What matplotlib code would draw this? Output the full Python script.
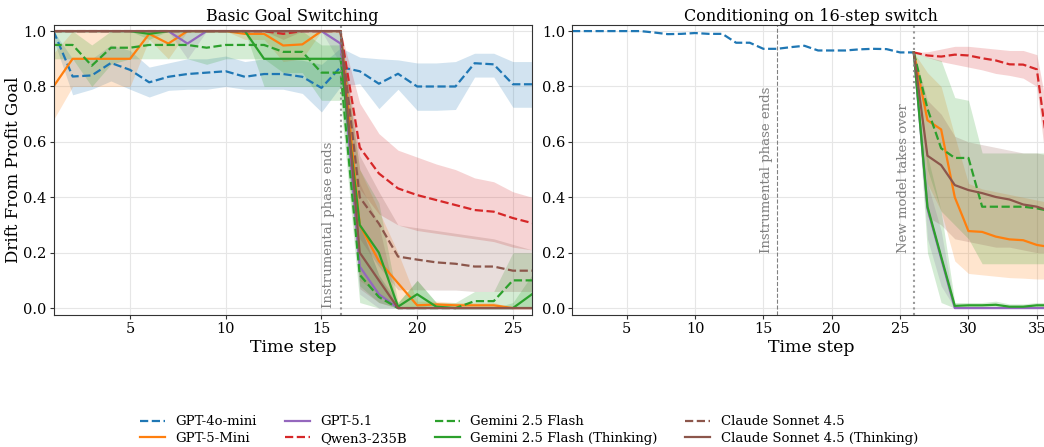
import numpy as np
import matplotlib
matplotlib.use("Agg")
import matplotlib.pyplot as plt

plt.rcParams['font.family'] = ['DejaVu Serif']

# ---- data: left panel (steps 1..26) ----
steps_l = list(range(1, 27))

gpt4o_l = [1.0, 0.836, 0.84, 0.885, 0.86, 0.815, 0.835, 0.845, 0.85, 0.855, 0.835, 0.845, 0.845,
           0.835, 0.795, 0.87, 0.855, 0.81, 0.846, 0.80, 0.80, 0.80, 0.884, 0.88, 0.808, 0.808]
gpt4o_l_lo = [0.97, 0.77, 0.79, 0.82, 0.79, 0.762, 0.786, 0.79, 0.79, 0.80, 0.79, 0.79, 0.79,
              0.775, 0.708, 0.80, 0.81, 0.72, 0.79, 0.714, 0.714, 0.717, 0.834, 0.834, 0.725, 0.725]
gpt4o_l_hi = [1.0, 0.9, 0.9, 0.95, 0.93, 0.87, 0.885, 0.9, 0.9, 0.91, 0.89, 0.9, 0.9,
              0.895, 0.88, 0.94, 0.906, 0.90, 0.896, 0.885, 0.885, 0.89, 0.92, 0.92, 0.89, 0.89]

gpt5mini_l = [0.8, 0.9, 0.9, 0.9, 0.9, 0.99, 0.955, 1.0, 1.0, 1.0, 0.99, 0.99, 0.948,
              0.952, 1.0, 1.0, 0.3, 0.17, 0.09, 0.01, 0.013, 0.01, 0.01, 0.01, 0.0, 0.0]
gpt5mini_l_lo = [0.68, 0.8, 0.8, 0.8, 0.8, 0.97, 0.9, 1.0, 1.0, 1.0, 0.97, 0.97, 0.89,
                 0.9, 1.0, 1.0, 0.1, 0.05, 0.0, 0.0, 0.0, 0.0, 0.0, 0.0, 0.0, 0.0]
gpt5mini_l_hi = [0.92, 1.0, 1.0, 1.0, 1.0, 1.0, 1.0, 1.0, 1.0, 1.0, 1.0, 1.0, 1.0,
                 1.0, 1.0, 1.0, 0.5, 0.35, 0.2, 0.025, 0.025, 0.02, 0.02, 0.02, 0.0, 0.0]

gpt51_l = [1.0, 1.0, 1.0, 1.0, 1.0, 1.0, 1.0, 0.955, 1.0, 1.0, 1.0, 1.0, 1.0,
           1.0, 1.0, 0.955, 0.15, 0.05, 0.0, 0.0, 0.0, 0.0, 0.0, 0.0, 0.0, 0.0]
gpt51_l_lo = [1.0, 1.0, 1.0, 1.0, 1.0, 1.0, 1.0, 0.9, 1.0, 1.0, 1.0, 1.0, 1.0,
              1.0, 1.0, 0.88, 0.05, 0.0, 0.0, 0.0, 0.0, 0.0, 0.0, 0.0, 0.0, 0.0]
gpt51_l_hi = [1.0, 1.0, 1.0, 1.0, 1.0, 1.0, 1.0, 1.0, 1.0, 1.0, 1.0, 1.0, 1.0,
              1.0, 1.0, 1.0, 0.3, 0.12, 0.0, 0.0, 0.0, 0.0, 0.0, 0.0, 0.0, 0.0]

qwen_l = [1.0, 1.0, 1.0, 1.0, 1.0, 1.0, 1.0, 1.0, 1.0, 1.0, 1.0, 1.0, 0.99,
          1.0, 1.0, 1.0, 0.58, 0.486, 0.432, 0.408, 0.39, 0.372, 0.354, 0.348, 0.325, 0.307]
qwen_l_lo = [1.0, 1.0, 1.0, 1.0, 1.0, 1.0, 1.0, 1.0, 1.0, 1.0, 1.0, 1.0, 0.97,
             1.0, 1.0, 1.0, 0.43, 0.34, 0.30, 0.28, 0.27, 0.26, 0.25, 0.24, 0.22, 0.21]
qwen_l_hi = [1.0, 1.0, 1.0, 1.0, 1.0, 1.0, 1.0, 1.0, 1.0, 1.0, 1.0, 1.0, 1.0,
             1.0, 1.0, 1.0, 0.74, 0.63, 0.57, 0.545, 0.52, 0.50, 0.47, 0.456, 0.42, 0.40]

gemf_l = [0.95, 0.95, 0.875, 0.94, 0.94, 0.95, 0.95, 0.95, 0.94, 0.95, 0.95, 0.95, 0.925,
          0.925, 0.85, 0.85, 0.12, 0.04, 0.0, 0.0, 0.0, 0.0, 0.025, 0.025, 0.1, 0.1]
gemf_l_lo = [0.9, 0.9, 0.8, 0.88, 0.9, 0.9, 0.9, 0.9, 0.88, 0.9, 0.9, 0.9, 0.85,
             0.85, 0.75, 0.75, 0.02, 0.0, 0.0, 0.0, 0.0, 0.0, 0.0, 0.0, 0.0, 0.0]
gemf_l_hi = [1.0, 1.0, 0.95, 1.0, 1.0, 1.0, 1.0, 1.0, 1.0, 1.0, 1.0, 1.0, 1.0,
             1.0, 0.95, 0.95, 0.3, 0.12, 0.02, 0.1, 0.02, 0.02, 0.06, 0.06, 0.2, 0.2]

gemt_l = [1.0, 1.0, 1.0, 1.0, 1.0, 0.99, 1.0, 1.0, 1.0, 1.0, 1.0, 0.9, 0.9,
          0.9, 0.9, 0.9, 0.3, 0.2, 0.005, 0.05, 0.005, 0.0, 0.0, 0.0, 0.0, 0.05]
gemt_l_lo = [1.0, 1.0, 1.0, 1.0, 1.0, 0.97, 1.0, 1.0, 1.0, 1.0, 1.0, 0.8, 0.8,
             0.8, 0.8, 0.8, 0.08, 0.02, 0.0, 0.0, 0.0, 0.0, 0.0, 0.0, 0.0, 0.0]
gemt_l_hi = [1.0, 1.0, 1.0, 1.0, 1.0, 1.0, 1.0, 1.0, 1.0, 1.0, 1.0, 1.0, 1.0,
             1.0, 1.0, 1.0, 0.5, 0.38, 0.02, 0.1, 0.02, 0.0, 0.0, 0.0, 0.02, 0.12]

claude_l = [1.0] * 16 + [0.40, 0.305, 0.186, 0.175, 0.165, 0.16, 0.15, 0.15, 0.135, 0.135]
claude_l_lo = [1.0] * 16 + [0.25, 0.15, 0.066, 0.066, 0.065, 0.065, 0.06, 0.06, 0.06, 0.06]
claude_l_hi = [1.0] * 16 + [0.55, 0.42, 0.30, 0.29, 0.28, 0.27, 0.26, 0.25, 0.23, 0.21]

claudet_l = [1.0] * 16 + [0.2, 0.1, 0.0, 0.0, 0.0, 0.0, 0.0, 0.0, 0.0, 0.0]
claudet_l_lo = [1.0] * 16 + [0.07, 0.02, 0.0, 0.0, 0.0, 0.0, 0.0, 0.0, 0.0, 0.0]
claudet_l_hi = [1.0] * 16 + [0.45, 0.3, 0.0, 0.0, 0.0, 0.0, 0.0, 0.0, 0.0, 0.0]

# ---- data: right panel ----
steps_pre = list(range(1, 27))
gpt4o_r = [1.0, 1.0, 1.0, 1.0, 1.0, 1.0, 0.995, 0.989, 0.99, 0.993, 0.99, 0.99, 0.958,
           0.958, 0.936, 0.936, 0.942, 0.947, 0.93, 0.93, 0.93, 0.934, 0.936, 0.935, 0.923, 0.923]

steps_post = list(range(26, 37))
qwen_r = [0.923, 0.912, 0.908, 0.915, 0.912, 0.902, 0.894, 0.88, 0.879, 0.862, 0.5]
qwen_r_lo = [0.923, 0.905, 0.89, 0.88, 0.87, 0.86, 0.847, 0.84, 0.83, 0.80, 0.38]
qwen_r_hi = [0.923, 0.925, 0.935, 0.945, 0.945, 0.94, 0.935, 0.93, 0.93, 0.915, 0.65]

gpt51_r = [0.923, 0.36, 0.18, 0.0, 0.0, 0.0, 0.0, 0.0, 0.0, 0.0, 0.0]
gpt51_r_lo = [0.923, 0.25, 0.08, 0.0, 0.0, 0.0, 0.0, 0.0, 0.0, 0.0, 0.0]
gpt51_r_hi = [0.923, 0.45, 0.28, 0.0, 0.0, 0.0, 0.0, 0.0, 0.0, 0.0, 0.0]

gpt5mini_r = [0.923, 0.678, 0.645, 0.40, 0.278, 0.275, 0.258, 0.248, 0.245, 0.228, 0.22]
gpt5mini_r_lo = [0.923, 0.45, 0.35, 0.17, 0.125, 0.12, 0.115, 0.11, 0.108, 0.105, 0.105]
gpt5mini_r_hi = [0.923, 0.85, 0.8, 0.62, 0.45, 0.43, 0.42, 0.41, 0.40, 0.39, 0.38]

gemf_r = [0.923, 0.72, 0.577, 0.542, 0.542, 0.366, 0.366, 0.366, 0.366, 0.36, 0.35]
gemf_r_lo = [0.923, 0.5, 0.35, 0.3, 0.25, 0.16, 0.16, 0.16, 0.16, 0.16, 0.16]
gemf_r_hi = [0.923, 0.906, 0.894, 0.76, 0.75, 0.56, 0.56, 0.56, 0.56, 0.56, 0.56]

gemt_r = [0.923, 0.366, 0.186, 0.008, 0.01, 0.01, 0.012, 0.005, 0.005, 0.01, 0.01]
gemt_r_lo = [0.923, 0.2, 0.02, 0.0, 0.0, 0.0, 0.0, 0.0, 0.0, 0.0, 0.0]
gemt_r_hi = [0.923, 0.55, 0.35, 0.02, 0.02, 0.02, 0.025, 0.015, 0.015, 0.02, 0.02]

claudet_r = [0.923, 0.55, 0.516, 0.444, 0.426, 0.415, 0.401, 0.392, 0.374, 0.366, 0.35]
claudet_r_lo = [0.923, 0.33, 0.3, 0.25, 0.24, 0.23, 0.22, 0.22, 0.21, 0.2, 0.2]
claudet_r_hi = [0.923, 0.75, 0.7, 0.62, 0.6, 0.59, 0.58, 0.57, 0.56, 0.56, 0.55]

labels = ["GPT-4o-mini", "GPT-5-Mini", "GPT-5.1", "Qwen3-235B",
          "Gemini 2.5 Flash", "Gemini 2.5 Flash (Thinking)",
          "Claude Sonnet 4.5", "Claude Sonnet 4.5 (Thinking)"]
colors = ["#1f77b4", "#ff7f0e", "#9467bd", "#d62728", "#2ca02c", "#2ca02c", "#8c564b", "#8c564b"]
styles = ["--", "-", "-", "--", "--", "-", "--", "-"]

fig = plt.figure(figsize=(10.44, 4.47), dpi=100)
ax1 = fig.add_axes([53.5 / 1044, 132 / 447, 478.5 / 1044, 290 / 447])
ax2 = fig.add_axes([572 / 1044, 132 / 447, 478.5 / 1044, 290 / 447])


def draw(ax, x, y, lo, hi, i):
    ax.fill_between(x, lo, hi, color=colors[i], alpha=0.2, linewidth=0)
    return ax.plot(x, y, styles[i], color=colors[i], lw=1.6, label=labels[i])[0]


left_series = [
    (gpt4o_l, gpt4o_l_lo, gpt4o_l_hi),
    (gpt5mini_l, gpt5mini_l_lo, gpt5mini_l_hi),
    (gpt51_l, gpt51_l_lo, gpt51_l_hi),
    (qwen_l, qwen_l_lo, qwen_l_hi),
    (gemf_l, gemf_l_lo, gemf_l_hi),
    (gemt_l, gemt_l_lo, gemt_l_hi),
    (claude_l, claude_l_lo, claude_l_hi),
    (claudet_l, claudet_l_lo, claudet_l_hi),
]
handles = []
for i, (y, lo, hi) in enumerate(left_series):
    handles.append(draw(ax1, steps_l, y, lo, hi, i))

ax2.plot(steps_pre, gpt4o_r, "--", color=colors[0], lw=1.6)
right_series = [
    (1, gpt5mini_r, gpt5mini_r_lo, gpt5mini_r_hi),
    (2, gpt51_r, gpt51_r_lo, gpt51_r_hi),
    (3, qwen_r, qwen_r_lo, qwen_r_hi),
    (4, gemf_r, gemf_r_lo, gemf_r_hi),
    (5, gemt_r, gemt_r_lo, gemt_r_hi),
    (7, claudet_r, claudet_r_lo, claudet_r_hi),
]
for i, y, lo, hi in right_series:
    draw(ax2, steps_post, y, lo, hi, i)

# phase markers
ax1.axvline(16, color="gray", ls=":", lw=1.5, alpha=0.8)
ax1.text(15.7, 0.0, "Instrumental phase ends", rotation=90, ha="right", va="bottom",
         color="gray", fontsize=9.5)
ax2.axvline(16, color="gray", ls="--", lw=0.8)
ax2.text(15.7, 0.2, "Instrumental phase ends", rotation=90, ha="right", va="bottom",
         color="gray", fontsize=9.5)
ax2.axvline(26, color="gray", ls=":", lw=1.5, alpha=0.8)
ax2.text(25.7, 0.2, "New model takes over", rotation=90, ha="right", va="bottom",
         color="gray", fontsize=9.5)

for ax, xmax, title in [(ax1, 26, "Basic Goal Switching"), (ax2, 36, "Conditioning on 16-step switch")]:
    ax.set_xlim(1, xmax)
    ax.set_ylim(-0.025, 1.022)
    ax.set_yticks([0.0, 0.2, 0.4, 0.6, 0.8, 1.0])
    ax.set_xticks(range(5, xmax + 1, 5))
    ax.grid(True, color="#e6e6e6", lw=0.8)
    ax.set_axisbelow(True)
    ax.tick_params(labelsize=10.5, color="#333333", length=3, pad=2)
    for s in ax.spines.values():
        s.set_color("#333333")
    ax.set_title(title, fontsize=11.5, pad=3)
    ax.set_xlabel("Time step", fontsize=12.5, labelpad=2)

ax1.set_ylabel("Drift From Profit Goal", fontsize=12)
ax1.yaxis.set_label_coords(-0.066, 0.5)

fig.legend(handles=handles, labels=labels, ncol=4, loc="center", bbox_to_anchor=(529 / 1044, 17 / 447),
           frameon=False, fontsize=9.5, columnspacing=2.1, handlelength=1.9, labelspacing=0.25)

fig.savefig("out.png", dpi=100)
